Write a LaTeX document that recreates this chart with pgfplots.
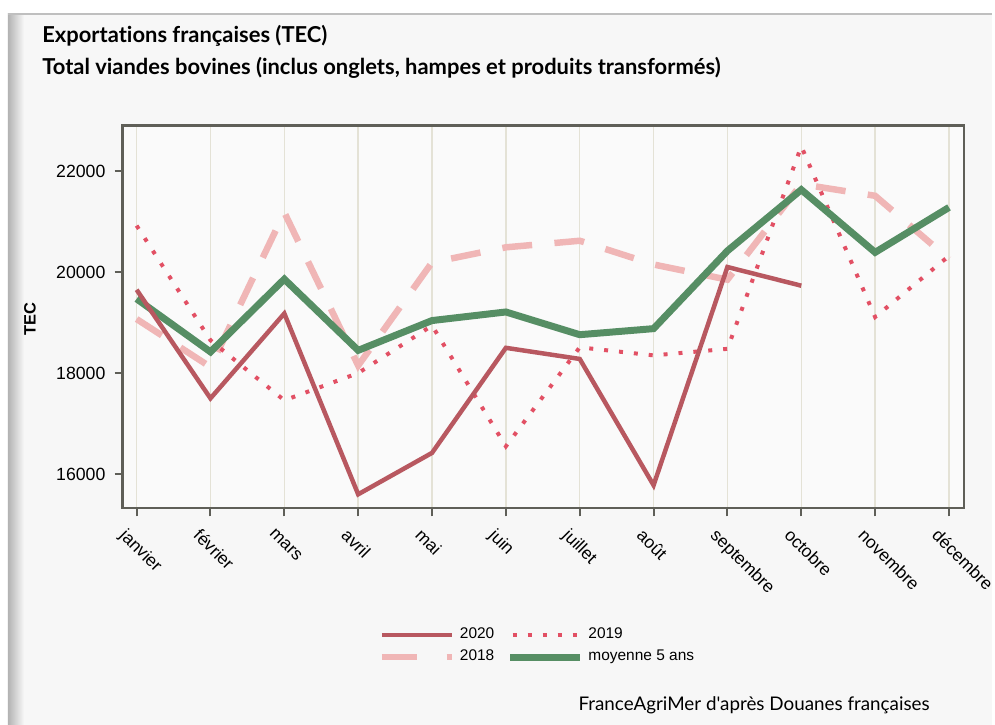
\documentclass[border=0pt]{standalone}
\usepackage{fontspec}
\setmainfont{Liberation Sans}
\newfontfamily\titlefont[Ligatures={NoCommon}]{Lato}
\usepackage{pgfplots}
\pgfplotsset{compat=1.18}
\definecolor{cardbg}{RGB}{247,247,247}
\definecolor{plotbg}{RGB}{250,250,250}
\definecolor{axgray}{RGB}{95,95,88}
\definecolor{gridc}{RGB}{228,226,214}
\definecolor{c2020}{RGB}{184,88,96}
\definecolor{c2019}{RGB}{226,80,100}
\definecolor{c2018}{RGB}{240,182,182}
\definecolor{cmoy}{RGB}{86,142,100}
\begin{document}
\begin{tikzpicture}
\begin{scope}[x=0.4pt,y=-0.4pt]
  \fill[white] (0,0) rectangle (995,727);
  \fill[cardbg] (8,14) rectangle (995,727);
  \shade[left color=black!30, right color=cardbg] (8,14) rectangle (24,727);
  \draw[black!25, line width=0.5pt] (8,14) -- (995,14);
  \node[anchor=base west, inner sep=0pt, font=\titlefont\bfseries\fontsize{8.8}{10}\selectfont] at (42,43) {Exportations françaises (TEC)};
  \node[anchor=base west, inner sep=0pt, font=\titlefont\bfseries\fontsize{8.8}{10}\selectfont] at (42,75) {Total viandes bovines (inclus onglets, hampes et produits transformés)};
  \node[rotate=90, inner sep=0pt, font=\bfseries\fontsize{6.6}{8}\selectfont] at (30,320) {TEC};
  \node[anchor=base west, inner sep=0pt, font=\titlefont\fontsize{7.55}{9}\selectfont] at (580,713) {FranceAgriMer d'après Douanes françaises};
\end{scope}
\begin{axis}[
  at={(49.2pt,-204pt)}, anchor=south west,
  scale only axis, width=337.6pt, height=153.6pt,
  xmin=-0.19, xmax=11.2, ymin=15323, ymax=22900,
  scaled y ticks=false,
  axis background/.style={fill=plotbg},
  axis line style={draw=axgray, line width=0.9pt},
  xtick={0,...,11},
  xticklabels={janvier,février,mars,avril,mai,juin,juillet,août,septembre,octobre,novembre,décembre},
  ytick={16000,18000,20000,22000},
  yticklabels={16000,18000,20000,22000},
  xtick pos=bottom, ytick pos=left,
  tick align=outside, major tick length=3.2pt,
  tick style={draw=axgray, line width=0.8pt},
  xmajorgrids, grid style={draw=gridc, line width=0.6pt},
  x tick label style={rotate=-45, anchor=north west, inner sep=0pt, font=\fontsize{7}{8}\selectfont, xshift=0.5pt, yshift=-5.5pt},
  y tick label style={font=\fontsize{7.1}{8}\selectfont, inner sep=0pt, xshift=-3.5pt},
  legend columns=2,
  legend style={at={(0.295,-0.285)}, anchor=north west, draw=none, fill=none,
    font=\fontsize{6.2}{7}\selectfont, row sep=-1pt,
    /tikz/every even column/.append style={column sep=3pt}},
  legend image code/.code={\draw[#1] (0pt,0pt) -- (28pt,0pt);},
  legend cell align=left,
]
\addlegendimage{c2020, line width=1.8pt}
\addlegendentry{2020}
\addlegendimage{c2019, line width=1.6pt, dash pattern=on 1.6pt off 4.4pt, dash phase=-1pt}
\addlegendentry{2019}
\addlegendimage{c2018, line width=2.6pt, dash pattern=on 14pt off 12pt}
\addlegendentry{2018}
\addlegendimage{cmoy, line width=2.8pt}
\addlegendentry{moyenne 5 ans}

\addplot[forget plot, c2018, line width=2.6pt, dash pattern=on 12pt off 9pt] coordinates {
(0,19070) (1,18120) (2,21180) (3,18150) (4,20190) (5,20490) (6,20620) (7,20150) (8,19850) (9,21740) (10,21510) (11,20260)};
\addplot[forget plot, c2019, line width=1.6pt, dash pattern=on 1.6pt off 4.4pt] coordinates {
(0,20920) (1,18650) (2,17460) (3,18000) (4,18940) (5,16550) (6,18510) (7,18350) (8,18480) (9,22490) (10,19110) (11,20320)};
\addplot[forget plot, cmoy, line width=2.8pt] coordinates {
(0,19470) (1,18420) (2,19860) (3,18450) (4,19040) (5,19210) (6,18760) (7,18880) (8,20420) (9,21630) (10,20390) (11,21280)};
\addplot[forget plot, c2020, line width=1.8pt] coordinates {
(0,19650) (1,17500) (2,19180) (3,15600) (4,16420) (5,18500) (6,18280) (7,15780) (8,20100) (9,19730)};
\end{axis}
\end{tikzpicture}
\end{document}
